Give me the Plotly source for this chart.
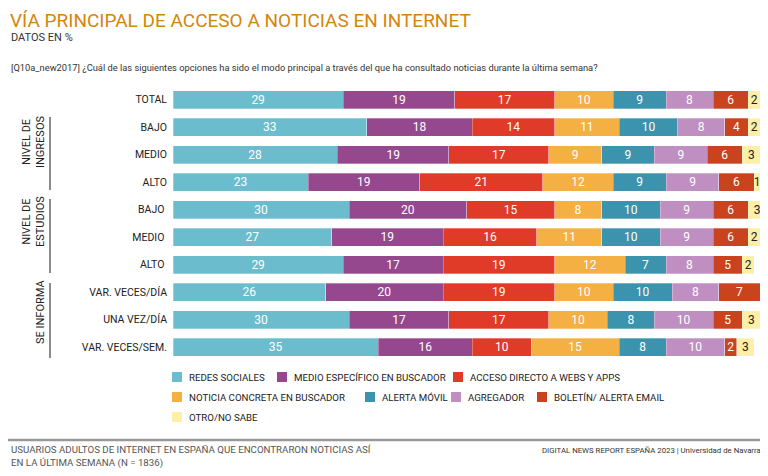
import plotly.graph_objects as go

categories = ["TOTAL", "BAJO", "MEDIO", "ALTO", "BAJO ", "MEDIO ", "ALTO ",
              "VAR. VECES/DÍA", "UNA VEZ/DÍA", "VAR. VECES/SEM."]
series_names = ["REDES SOCIALES", "MEDIO ESPECÍFICO EN BUSCADOR", "ACCESO DIRECTO A WEBS Y APPS",
                "NOTICIA CONCRETA EN BUSCADOR", "ALERTA MÓVIL", "AGREGADOR",
                "BOLETÍN/ ALERTA EMAIL", "OTRO/NO SABE"]
redes = [29, 33, 28, 23, 30, 27, 29, 26, 30, 35]
medio_buscador = [19, 18, 19, 19, 20, 19, 17, 20, 17, 16]
acceso_directo = [17, 14, 17, 21, 15, 16, 19, 19, 17, 10]
noticia_concreta = [10, 11, 9, 12, 8, 11, 12, 10, 10, 15]
alerta_movil = [9, 10, 9, 9, 10, 10, 7, 10, 8, 8]
agregador = [8, 8, 9, 9, 9, 9, 8, 8, 10, 10]
boletin = [6, 4, 6, 6, 6, 6, 5, 7, 5, 2]
otro = [2, 2, 3, 1, 3, 2, 2, 1, 3, 3]
series_values = [redes, medio_buscador, acceso_directo, noticia_concreta,
                 alerta_movil, agregador, boletin, otro]
colors = ["#6bbccd", "#96488f", "#e03a28", "#f4b042", "#3b93ad", "#bf8fc2", "#c9431f", "#fdf0a6"]
text_colors = ["white", "white", "white", "white", "white", "white", "white", "#222222"]

FONT = "Roboto, sans-serif"

# page offset (body margin) and layout geometry
OFF = 8
W, H = 768, 476
ML, MR, MT, MB = 173 - OFF, 5 + OFF, 86 - OFF, 115 + OFF
PW = W - ML - MR
PH = H - MT - MB

fig = go.Figure()
for name, vals, col, tc in zip(series_names, series_values, colors, text_colors):
    fig.add_trace(go.Bar(
        y=categories, x=vals, name=name, orientation="h",
        marker=dict(color=col, line=dict(color="rgba(255,255,255,0.6)", width=0.5)),
        text=[str(v) for v in vals], textposition="inside", insidetextanchor="middle",
        textangle=0, constraintext="none",
        textfont=dict(color=tc, size=12, family="Roboto"),
        width=0.66, showlegend=False, hoverinfo="x+name",
    ))

fig.update_layout(
    barmode="stack",
    width=W, height=H,
    margin=dict(l=ML, r=MR, t=MT, b=MB),
    paper_bgcolor="white", plot_bgcolor="white",
    uniformtext=dict(minsize=12, mode="show"),
    xaxis=dict(range=[0, 100.5], visible=False, fixedrange=True),
    yaxis=dict(autorange="reversed", showticklabels=True, ticks="", showgrid=False,
               tickfont=dict(family=FONT, size=10.5, color="#222"), ticklabelstandoff=5,
               fixedrange=True),
    font=dict(family=FONT),
)

annotations = []
shapes = []


def to_paper(x, y):
    fx, fy = x - OFF, y - OFF
    return (fx - ML) / PW, (H - MB - fy) / PH


def text2(t, x, y, size, color="#333", xanchor="left", yanchor="middle", angle=0, align="left", family=FONT):
    px, py = to_paper(x, y)
    annotations.append(dict(text=t, x=px, y=py, xref="paper", yref="paper",
                            xanchor=xanchor, yanchor=yanchor, showarrow=False, textangle=angle,
                            align=align, font=dict(family=family, size=size, color=color)))


text2("VÍA PRINCIPAL DE ACCESO A NOTICIAS EN INTERNET", 8, 20, 19, color="#d4860b")
text2("DATOS EN %", 9, 38, 11, color="#333")
text2("[Q10a_new2017] ¿Cuál de las siguientes opciones ha sido el modo principal a través del que ha consultado noticias durante la última semana?",
      9, 67, 9.3, color="#333")

groups = [("NIVEL DE<br>INGRESOS", 117, 190, 33, 142), ("NIVEL DE<br>ESTUDIOS", 199, 273, 33, 222),
          ("SE INFORMA", 283, 358, 40, 312)]
for label, y0, y1, tx, ty in groups:
    x0p, y0p = to_paper(50, y0)
    x1p, y1p = to_paper(50, y1)
    shapes.append(dict(type="line", xref="paper", yref="paper", x0=x0p, x1=x1p, y0=y0p, y1=y1p,
                       line=dict(color="#666", width=1.5)))
    text2(label, tx, ty, 11, color="#222", xanchor="center", yanchor="middle", angle=-90, align="center")

legend_pos = [(177, 377), (282, 377), (458, 377), (177, 397), (370, 397), (456, 397), (542, 397), (177, 417)]
for name, col, (lx, ly) in zip(series_names, colors, legend_pos):
    xa, ya = to_paper(lx - 5, ly - 5)
    xb, yb = to_paper(lx + 5, ly + 5)
    shapes.append(dict(type="rect", xref="paper", yref="paper", x0=xa, x1=xb, y0=ya, y1=yb,
                       fillcolor=col, line=dict(width=0)))
    text2(name, lx + 10, ly, 9.7, color="#222")

xa, ya = to_paper(0, 440)
xb, yb = to_paper(768, 440)
shapes.append(dict(type="line", xref="paper", yref="paper", x0=xa, x1=xb, y0=ya, y1=yb,
                   line=dict(color="#999", width=2.5)))
text2("USUARIOS ADULTOS DE INTERNET EN ESPAÑA QUE ENCONTRARON NOTICIAS ASÍ<br>EN LA ÚLTIMA SEMANA (N = 1836)",
      9, 456, 9.7, color="#555")
text2("DIGITAL NEWS REPORT ESPAÑA 2023 | Universidad de Navarra", 763, 450, 7.8, color="#333", xanchor="right")

fig.update_layout(annotations=annotations, shapes=shapes)
fig.write_html("out.html")
